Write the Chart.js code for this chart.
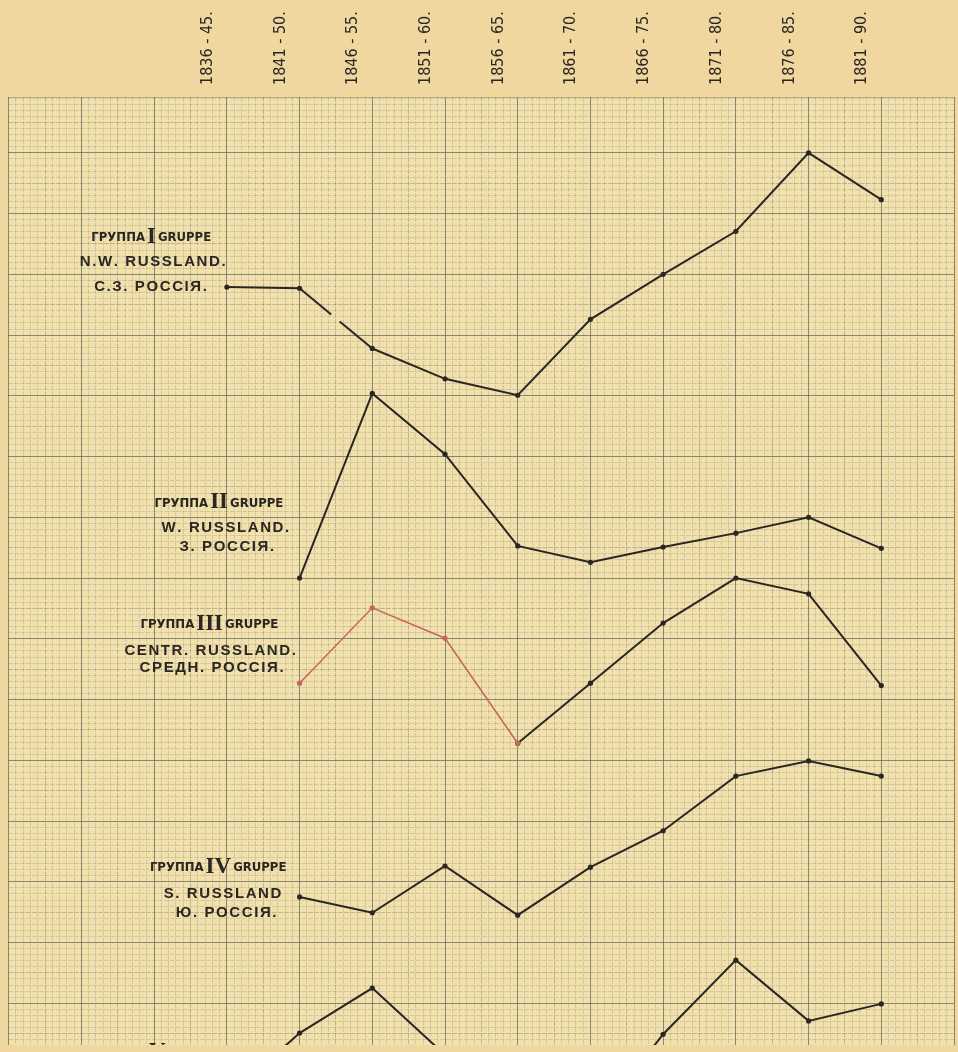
<!DOCTYPE html>
<html>
<head>
<meta charset="utf-8">
<script src="https://cdn.jsdelivr.net/npm/chart.js@4.4.1/dist/chart.umd.min.js"></script>
<style>
html, body { margin: 0; padding: 0; background: #efd79f; }
canvas { display: block; }
</style>
</head>
<body>
<canvas id="chart" width="958" height="1052"></canvas>
<script>
"use strict";

// periods along the top
var periods = ['1836 - 45.', '1841 - 50.', '1846 - 55.', '1851 - 60.', '1856 - 65.',
	'1861 - 70.', '1866 - 75.', '1871 - 80.', '1876 - 85.', '1881 - 90.'];

// values in small squares of the graph paper (10 per big square)
var groupI = [117.9, 117.7, 107.8, 102.8, 100.1, 112.6, 120.0, 127.1, 140.0, 132.3];
var groupII = [null, 70.0, 100.4, 90.4, 75.3, 72.6, 75.1, 77.4, 80.0, 74.9];
var groupIIIEarly = [null, 52.7, 65.1, 60.1, 42.8, null, null, null, null, null];
var groupIIILate = [null, null, null, null, 42.8, 52.7, 62.6, 70.0, 67.4, 52.3];
var groupIV = [null, 17.5, 14.9, 22.6, 14.5, 22.4, 28.4, 37.4, 39.9, 37.4];
var groupV = [-15.6, -4.9, 2.5, -8.5, -17.6, -20.4, -5.1, 7.1, -2.9, -0.1];

// group captions
var groupNumerals = ['I', 'II', 'III', 'IV', 'V'];
var groupGerman = ['N.W. RUSSLAND.', 'W. RUSSLAND.', 'CENTR. RUSSLAND.', 'S. RUSSLAND', ''];
var groupRussian = ['С.З. РОССІЯ.', 'З. РОССІЯ.', 'СРЕДН. РОССІЯ.', 'Ю. РОССІЯ.', ''];

var ink = '#2a2622';
var red = '#c4675c';
var narrow = "'Liberation Sans Narrow', 'DejaVu Sans Condensed', sans-serif";

// caption lines placed in axis units: [x, y] for title, german, russian
var captionSpots = [
	[[-1.04, 126.0], [-1.02, 122.0], [-1.05, 118.0]],
	[[-0.11, 82.3], [-0.02, 78.2], [0.0, 75.1]],
	[[-0.24, 62.3], [-0.23, 58.1], [-0.21, 55.2]],
	[[-0.12, 22.3], [-0.06, 18.0], [-0.01, 14.9]],
	[[-0.96, -8.2], [-0.96, -12], [-0.96, -15]]
];

function toPoints(arr) {
	return arr.map(function (v, i) { return { x: i, y: v }; });
}

function range(from, to, step, keep) {
	var out = [];
	for (var k = from; k <= to; k++) {
		if (keep(k)) out.push({ value: k * step });
	}
	return out;
}

function lineSet(label, arr, color, width) {
	return {
		label: label,
		data: toPoints(arr),
		borderColor: color,
		backgroundColor: color,
		borderWidth: width,
		pointRadius: 2.6,
		pointBorderWidth: 0,
		tension: 0,
		spanGaps: false
	};
}

var paper = {
	id: 'paper',
	beforeDraw: function (chart) {
		var ctx = chart.ctx, a = chart.chartArea;
		ctx.save();
		ctx.fillStyle = '#efd79f';
		ctx.fillRect(0, 0, chart.width, chart.height);
		ctx.fillStyle = '#f2e0ad';
		ctx.fillRect(a.left, a.top, a.right - a.left, a.bottom - a.top);
		ctx.restore();
	}
};

function drawSpaced(ctx, text, cx, y, spacing) {
	var total = 0, widths = [];
	for (var i = 0; i < text.length; i++) {
		widths.push(ctx.measureText(text[i]).width);
		total += widths[i] + (i < text.length - 1 ? spacing : 0);
	}
	var x = cx - total / 2;
	for (var j = 0; j < text.length; j++) {
		ctx.fillText(text[j], x, y);
		x += widths[j] + spacing;
	}
}

var captions = {
	id: 'captions',
	afterDatasetsDraw: function (chart) {
		var ctx = chart.ctx, a = chart.chartArea;
		var xs = chart.scales.x, ys = chart.scales.y;
		ctx.save();
		ctx.beginPath();
		ctx.rect(a.left, a.top, a.right - a.left, a.bottom - a.top);
		ctx.clip();
		ctx.fillStyle = ink;
		ctx.textBaseline = 'middle';
		ctx.textAlign = 'left';
		captionSpots.forEach(function (spot, g) {
			// title line: ГРУППА <numeral> GRUPPE
			var parts = [
				{ t: 'ГРУППА', f: 'bold 13px ' + narrow, dy: 0 },
				{ t: groupNumerals[g], f: 'bold 23px "Liberation Serif", serif', dy: -1 },
				{ t: 'GRUPPE', f: 'bold 13px ' + narrow, dy: 0 }
			];
			var gap = 2, total = 0;
			parts.forEach(function (p) {
				ctx.font = p.f;
				p.w = ctx.measureText(p.t).width;
				total += p.w;
			});
			total += gap * 2;
			var x = xs.getPixelForValue(spot[0][0]) - total / 2;
			var y = ys.getPixelForValue(spot[0][1]);
			parts.forEach(function (p) {
				ctx.font = p.f;
				ctx.fillText(p.t, x, y + p.dy);
				x += p.w + gap;
			});
			ctx.font = 'bold 15px "Liberation Sans", sans-serif';
			if (groupGerman[g]) {
				drawSpaced(ctx, groupGerman[g], xs.getPixelForValue(spot[1][0]), ys.getPixelForValue(spot[1][1]), 1.6);
			}
			if (groupRussian[g]) {
				drawSpaced(ctx, groupRussian[g], xs.getPixelForValue(spot[2][0]), ys.getPixelForValue(spot[2][1]), 1.6);
			}
		});
		ctx.restore();
	}
};

var fineColor = function (c) {
	var k = Math.round(c.tick.value * 10);
	return k % 5 === 0 ? 'rgba(95, 105, 92, 0.34)' : 'rgba(105, 115, 100, 0.22)';
};
var majorColor = 'rgba(92, 102, 92, 0.72)';

var xMin = -3.01, xMax = 10.0;
var yMin = -6.87, yMax = 149.2;

var seriesI = lineSet('Gruppe I', groupI, ink, 2);
seriesI.segment = {
	borderDash: function (c) { return c.p0DataIndex === 1 ? [41, 11, 300] : undefined; }
};

var context = document.getElementById('chart');
var myChart = new Chart(context, {
	type: 'line',
	data: {
		datasets: [
			seriesI,
			lineSet('Gruppe II', groupII, ink, 2),
			lineSet('Gruppe III', groupIIIEarly, red, 1.5),
			lineSet('Gruppe III', groupIIILate, ink, 2),
			lineSet('Gruppe IV', groupIV, ink, 2),
			lineSet('Gruppe V', groupV, ink, 2)
		]
	},
	options: {
		responsive: false,
		animation: false,
		devicePixelRatio: 1,
		layout: { padding: { left: 8, right: 0, top: 0, bottom: 7 } },
		plugins: {
			legend: { display: false },
			tooltip: { enabled: false }
		},
		scales: {
			xFine: {
				type: 'linear', position: 'bottom', min: xMin, max: xMax,
				afterBuildTicks: function (axis) {
					axis.ticks = range(-30, 100, 0.1, function (k) { return k % 10 !== 0; });
				},
				ticks: { display: false },
				grid: { color: fineColor, lineWidth: 1, drawTicks: false },
				border: { display: false, dash: [5, 1] }
			},
			x: {
				type: 'linear', position: 'bottom', min: xMin, max: xMax,
				afterBuildTicks: function (axis) {
					axis.ticks = range(-3, 10, 1, function () { return true; });
				},
				ticks: { display: false },
				grid: { color: majorColor, lineWidth: 1, drawTicks: false },
				border: { display: false }
			},
			xTop: {
				type: 'linear', position: 'top', min: xMin, max: xMax,
				afterBuildTicks: function (axis) {
					axis.ticks = range(0, 9, 1, function () { return true; });
				},
				afterFit: function (axis) { axis.height = 97; },
				ticks: {
					minRotation: 90, maxRotation: 90, padding: 12, color: ink,
					font: { family: narrow, size: 16 },
					callback: function (value) { return periods[value]; }
				},
				grid: { display: false, drawTicks: false },
				border: { display: true, color: 'rgba(95, 105, 92, 0.4)', width: 1 }
			},
			yFine: {
				type: 'linear', position: 'left', min: yMin, max: yMax,
				afterBuildTicks: function (axis) {
					axis.ticks = range(-6, 149, 1, function (k) { return k % 10 !== 0; });
				},
				ticks: { display: false },
				grid: {
					color: function (c) {
						return Math.round(c.tick.value) % 5 === 0 ? 'rgba(95, 105, 92, 0.34)' : 'rgba(105, 115, 100, 0.22)';
					},
					lineWidth: 1, drawTicks: false
				},
				border: { display: false, dash: [5, 1] }
			},
			y: {
				type: 'linear', position: 'left', min: yMin, max: yMax,
				afterBuildTicks: function (axis) {
					axis.ticks = range(0, 14, 10, function () { return true; });
				},
				ticks: { display: false },
				grid: { color: majorColor, lineWidth: 1, drawTicks: false },
				border: { display: false }
			}
		}
	},
	plugins: [paper, captions]
});
</script>
</body>
</html>
